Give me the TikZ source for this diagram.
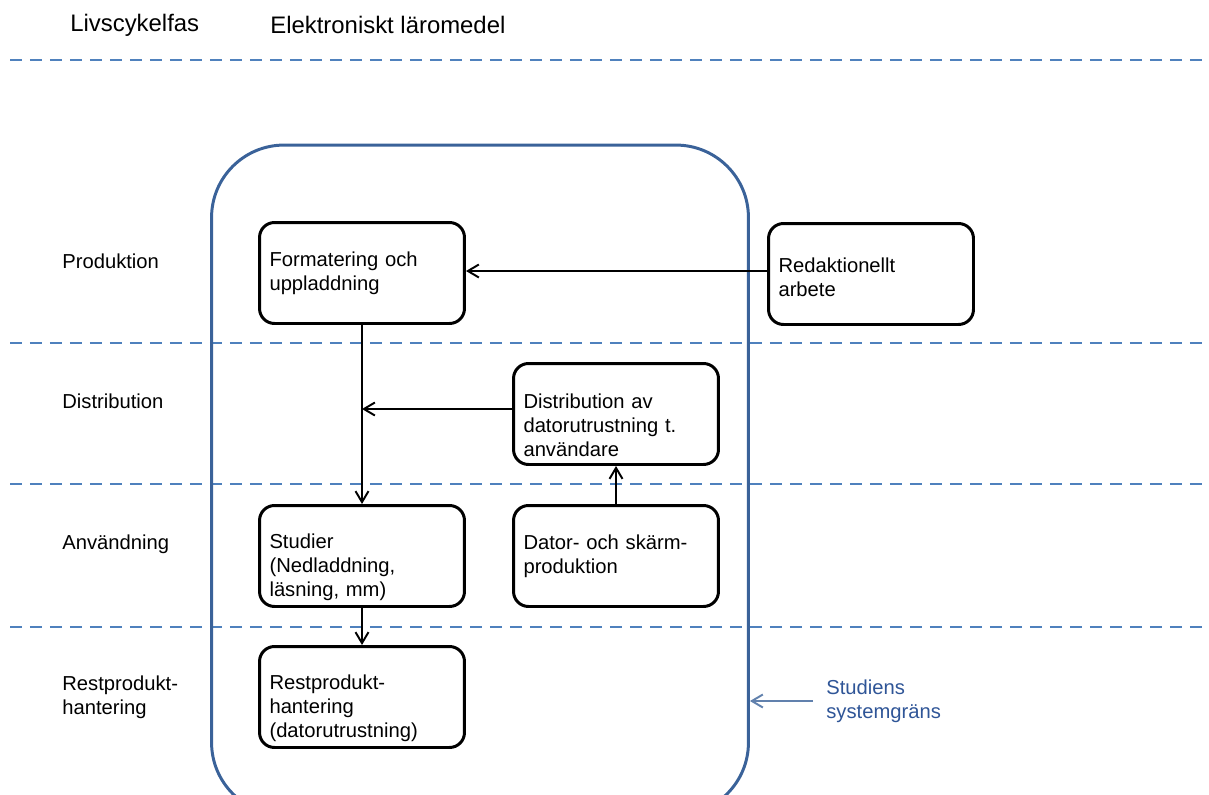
\documentclass[tikz,border=0pt]{standalone}
\usepackage{fontspec}
\setmainfont{Liberation Sans}
\usetikzlibrary{arrows.meta, positioning}

\definecolor{fasblue}{HTML}{4F81BD}
\definecolor{gransblue}{HTML}{3A6299}
\definecolor{labelblue}{HTML}{2F5597}

% lowers three-line texts a little inside their box
\newcommand{\lowtop}{\rule{0pt}{0.74cm}}

\tikzset{
  stepbox/.style={draw, line width=1.7pt, rounded corners=0.3cm, minimum width=4.1cm, minimum height=2.02cm, text width=3.7cm, align=left, inner sep=0pt},
  flow/.style={line width=1.1pt, -{Straight Barb[length=0.22cm, width=0.26cm]}},
  fasline/.style={fasblue, line width=1.1pt, dash pattern=on 0.24cm off 0.16cm},
  faslabel/.style={anchor=west, align=left, inner sep=0pt},
  heading/.style={faslabel, font=\fontsize{13.6}{16}\selectfont}
}

\begin{document}
\begin{tikzpicture}[x=0.02cm, y=-0.02cm, font=\fontsize{11.5}{13.6}\selectfont]

  \useasboundingbox (0,0) rectangle (1209,794);

  % Headings
  \node[heading] (hfas) at (70,25) {Livscykelfas};
  \node[heading] (hobj) at (270,25) {Elektroniskt läromedel};

  % Phase separators
  \foreach \y in {60,343,484,627}
    \draw[fasline] (10,\y) -- (1209,\y);

  % System boundary
  \begin{scope}
    \clip (0,0) rectangle (1209,794);
    \node[draw=gransblue, line width=1.7pt, rounded corners=1.45cm, minimum width=10.74cm, minimum height=13.4cm] (sysgrans) at (480,480) {};
  \end{scope}

  % Phase labels
  \node[faslabel] (lprod) at (62,261) {Produktion};
  \node[faslabel] (ldist) at (62,401) {Distribution};
  \node[faslabel] (lanv) at (62,544) {Användning};
  \node[faslabel] (lrest) at (62,697) {Restprodukt-\\hantering};

  % Process steps
  \node[stepbox] (form) at (362,273) {Formatering och\\uppladdning};
  \node[stepbox] (redak) at (871,274) {\rule{0pt}{0.42cm}Redaktionellt\\arbete};
  \node[stepbox] (distr) at (616,414) {\lowtop Distribution av\\datorutrustning t.\\användare};
  \node[stepbox] (stud) at (362,556) {\lowtop Studier\\(Nedladdning,\\läsning, mm)};
  \node[stepbox] (dator) at (616,556) {Dator- och skärm-\\produktion};
  \node[stepbox] (rest) at (362,697) {\lowtop Restprodukt-\\hantering\\(datorutrustning)};

  % Flows
  \draw[flow] (redak.west |- 0,271) -- (form.east |- 0,271);
  \draw[flow] (form.south) -- (stud.north);
  \draw[flow] (distr.west |- 0,409) -- (form.south |- 0,409);
  \draw[flow] (dator.north) -- (distr.south);
  \draw[flow] (stud.south) -- (rest.north);

  % Boundary label
  \node[faslabel, text=labelblue] (lgrans) at (826,701) {Studiens\\systemgräns};
  \coordinate (gstart) at (813,701);
  \draw[gransblue!80!white, line width=1.1pt, -{Straight Barb[length=0.22cm, width=0.26cm]}] (gstart) -- (sysgrans.east |- gstart);

\end{tikzpicture}
\end{document}
